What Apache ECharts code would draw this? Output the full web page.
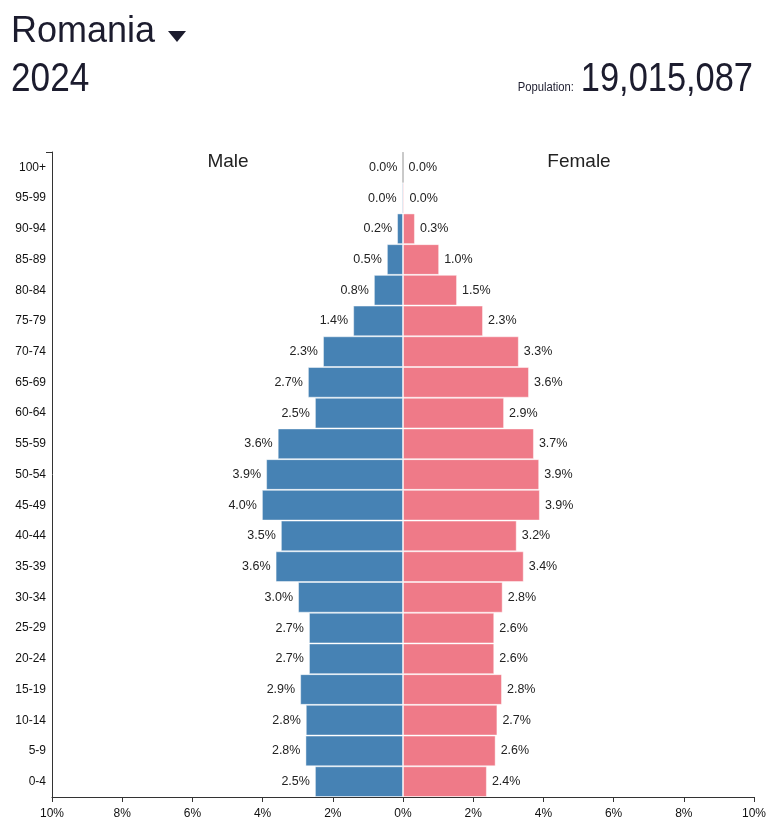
<!DOCTYPE html>
<html>
<head>
<meta charset="utf-8">
<script src="https://cdn.jsdelivr.net/npm/echarts@6/dist/echarts.min.js"></script>
<style>
  html, body { margin: 0; padding: 0; background: #fff; }
  #chart { width: 772px; height: 827px; }
</style>
</head>
<body>
<div id="chart"></div>
<script>
// age groups, bottom to top
var ageGroups = ['0-4', '5-9', '10-14', '15-19', '20-24', '25-29', '30-34', '35-39', '40-44', '45-49',
  '50-54', '55-59', '60-64', '65-69', '70-74', '75-79', '80-84', '85-89', '90-94', '95-99', '100+']
// share of total population, %
var male = [2.51, 2.78, 2.77, 2.93, 2.68, 2.68, 2.99, 3.63, 3.48, 4.02,
  3.9, 3.57, 2.51, 2.71, 2.28, 1.42, 0.83, 0.46, 0.17, 0.04, 0.004]
var female = [2.39, 2.64, 2.69, 2.82, 2.6, 2.6, 2.84, 3.44, 3.24, 3.9,
  3.88, 3.73, 2.88, 3.59, 3.3, 2.28, 1.54, 1.03, 0.34, 0.04, 0.004]
var xTicks = [-10, -8, -6, -4, -2, 0, 2, 4, 6, 8, 10]

var country = 'Romania'
var year = '2024'
var population = '19,015,087'

var textColor = '#1c1c2e'
var fontName = 'Liberation Sans, Arial, sans-serif'

// near-zero bars only show their outline
function barItem(v) {
  if (Math.abs(v) < 0.01) {
    return { value: v, itemStyle: { borderColor: 'rgba(0,0,0,0.12)' } }
  }
  return v
}

var chart = echarts.init(document.getElementById('chart'))

var option = {
  animation: false,
  textStyle: { fontFamily: fontName },
  grid: { left: 52, right: 18, top: 152, bottom: 30, containLabel: false },
  xAxis: {
    type: 'value',
    min: xTicks[0],
    max: xTicks[xTicks.length - 1],
    interval: 2,
    splitLine: { show: false },
    axisLine: { show: true, lineStyle: { color: '#333', width: 1 } },
    axisTick: { show: true, length: 5, lineStyle: { color: '#333' } },
    axisLabel: {
      color: '#111', fontSize: 12, margin: 11,
      formatter: function (v) { return Math.abs(v) + '%' }
    }
  },
  yAxis: {
    type: 'category',
    data: ageGroups,
    axisLine: { show: true, onZero: false, lineStyle: { color: '#333', width: 1 } },
    axisTick: { show: false },
    axisLabel: { color: '#111', fontSize: 12, margin: 6, padding: [4, 0, 0, 0] }
  },
  series: [
    {
      name: 'Male',
      type: 'bar',
      barWidth: '100%',
      barGap: '-100%',
      data: male.map(function (v) { return barItem(-v) }),
      itemStyle: { color: '#4682b4', borderColor: 'rgba(255,255,255,0.45)', borderWidth: 1 },
      label: {
        show: true, position: 'left', distance: 5, fontSize: 12.5, color: '#222', padding: [4, 0, 0, 0],
        formatter: function (p) { return Math.abs(p.value).toFixed(1) + '%' }
      }
    },
    {
      name: 'Female',
      type: 'bar',
      barWidth: '100%',
      barGap: '-100%',
      data: female.map(barItem),
      itemStyle: { color: '#ef7a88', borderColor: 'rgba(255,255,255,0.45)', borderWidth: 1 },
      label: {
        show: true, position: 'right', distance: 5, fontSize: 12.5, color: '#222', padding: [4, 0, 0, 0],
        formatter: function (p) { return p.value.toFixed(1) + '%' }
      }
    }
  ],
  graphic: [
    { type: 'text', x: 11, y: 32, style: { text: country, fontSize: 36, fontFamily: fontName, fill: textColor, verticalAlign: 'middle' } },
    { type: 'polygon', shape: { points: [[168, 31], [186, 31], [177, 42]] }, style: { fill: textColor } },
    { type: 'text', x: 11, y: 80, scaleX: 0.88, style: { text: year, fontSize: 40, fontFamily: fontName, fill: textColor, verticalAlign: 'middle' } },
    { type: 'text', x: 753, y: 80, scaleX: 0.86, style: { text: population, fontSize: 40, fontFamily: fontName, fill: textColor, align: 'right', verticalAlign: 'middle' } },
    { type: 'text', x: 574, y: 88, scaleX: 0.9, style: { text: 'Population:', fontSize: 12.5, fontFamily: fontName, fill: textColor, align: 'right', verticalAlign: 'middle' } },
    { type: 'text', x: 228, y: 162, style: { text: 'Male', fontSize: 19, fontFamily: fontName, fill: '#222', align: 'center', verticalAlign: 'middle' } },
    { type: 'text', x: 579, y: 162, style: { text: 'Female', fontSize: 19, fontFamily: fontName, fill: '#222', align: 'center', verticalAlign: 'middle' } },
    { type: 'line', shape: { x1: 46, y1: 152.5, x2: 52, y2: 152.5 }, style: { stroke: '#333', lineWidth: 1 } }
  ]
}

chart.setOption(option)
</script>
</body>
</html>
